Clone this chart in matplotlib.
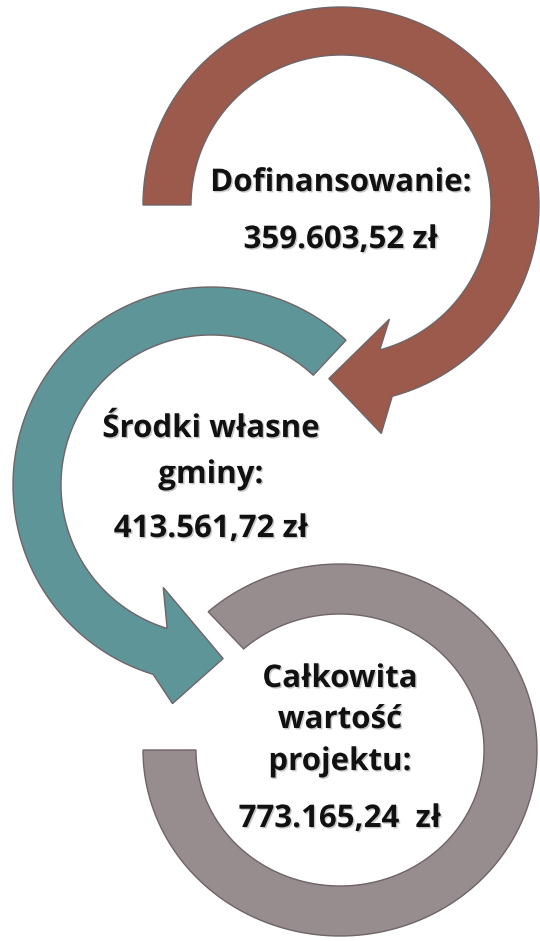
import numpy as np
import matplotlib.pyplot as plt
from matplotlib.patches import Polygon
import matplotlib.patheffects as pe

# diagram content
labels = [['Dofinansowanie:'], ['Środki własne', 'gminy:'], ['Całkowita', 'wartość', 'projektu:']]
amounts = ['359.603,52 zł', '413.561,72 zł', '773.165,24  zł']
colors = ['#9B5A4B', '#5E9599', '#978C8E']

# ring layout (pixel units): centre, radii, band width, angles in degrees
centres = [(341, 205), (211, 485), (340, 750)]
radii = [(198, 198), (198, 198), (197, 186)]
widths = [48, 48, 50]
starts = [180, 47, 132]
ends = [-75, 253, -180]
tips = [-94, 274, None]
# arrow heads: (inner radius, inner angle, outer radius, outer angle)
heads = [(124, -67, 232, -80), (113, 245, 222, 260), None]
# text baselines
label_base = [[191], [437, 483], [687, 728, 770]]
amount_base = [248, 537, 827]


def band(cx, cy, rx, ry, w, a0, a1, tip=None, head=None):
    t = np.radians(np.linspace(a0, a1, 200))
    sx = rx / ry
    ro, ri = ry, ry - w
    outer = np.c_[cx + ro * sx * np.cos(t), cy - ro * np.sin(t)]
    inner = np.c_[cx + ri * sx * np.cos(t), cy - ri * np.sin(t)]
    pts = [outer]
    if tip is not None:
        hi, ai, ho, ao = head
        ai, ao, tp = np.radians([ai, ao, tip])
        rm = (ro + ri) / 2
        pts.append([[cx + ho * sx * np.cos(ao), cy - ho * np.sin(ao)],
                    [cx + rm * sx * np.cos(tp), cy - rm * np.sin(tp)],
                    [cx + hi * sx * np.cos(ai), cy - hi * np.sin(ai)]])
    pts.append(inner[::-1])
    return np.vstack(pts)


fig = plt.figure(figsize=(5.4, 9.41), dpi=100)
ax = fig.add_axes([0, 0, 1, 1])
ax.set_xlim(0, 540)
ax.set_ylim(941, 0)
ax.axis('off')

for i in [2, 1, 0]:
    cx, cy = centres[i]
    rx, ry = radii[i]
    poly = band(cx, cy, rx, ry, widths[i], starts[i], ends[i], tips[i], heads[i])
    ax.add_patch(Polygon(poly, closed=True, facecolor=colors[i],
                         edgecolor='#6f6468', linewidth=1.0, zorder=2 + i))

shadow = [pe.SimplePatchShadow(offset=(1.0, -1.0), shadow_rgbFace='#777777', alpha=0.4), pe.Normal()]
font = dict(ha='center', va='baseline', fontsize=22.5, fontweight='bold',
            family='Open Sans', color='#111111', zorder=10, path_effects=shadow)
for i in range(3):
    cx = centres[i][0]
    for line, y in zip(labels[i], label_base[i]):
        ax.text(cx, y, line, **font)
    ax.text(cx, amount_base[i], amounts[i], **font)

fig.savefig('out.png', dpi=100, facecolor='white')
